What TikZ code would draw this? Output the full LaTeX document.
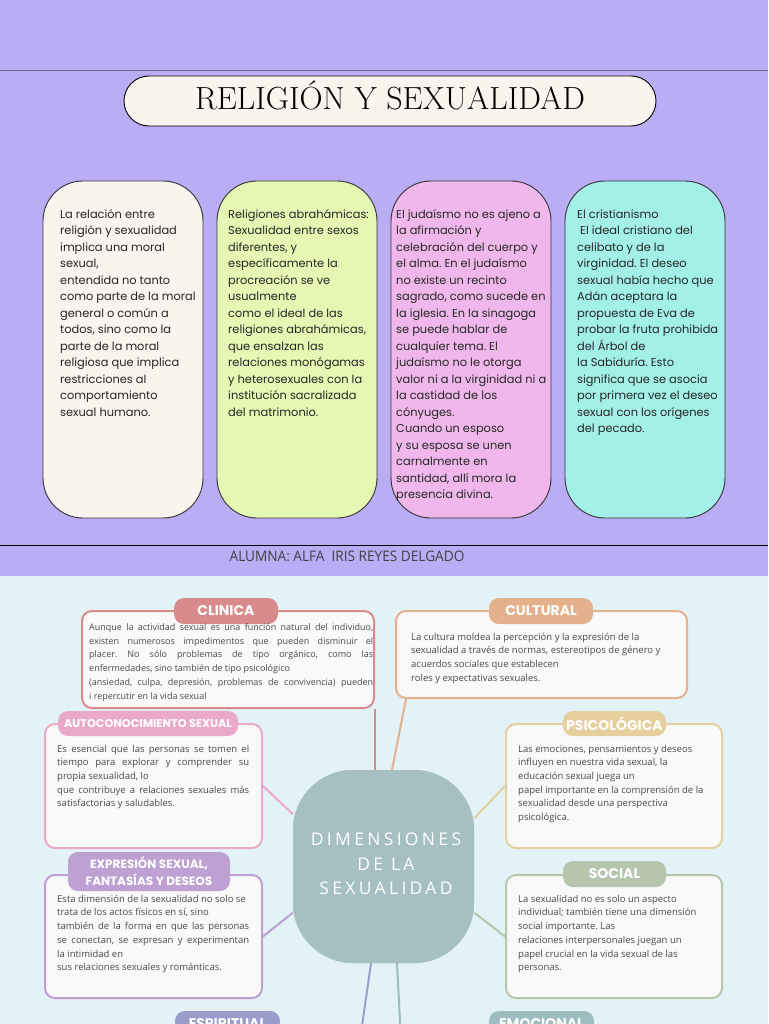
\documentclass[tikz,border=0pt]{standalone}
\usepackage{fontspec}
\usetikzlibrary{calc}
\newfontfamily\popp{Poppins}
\newfontfamily\osans{Open Sans}
\newfontfamily\osansls{Open Sans}[LetterSpace=19]
\definecolor{topbg}{HTML}{BBADF5}
\definecolor{botbg}{HTML}{E2F2F7}
\definecolor{cream}{HTML}{F8F4EE}
\definecolor{lime}{HTML}{E6F7B3}
\definecolor{pinkb}{HTML}{F0B8EA}
\definecolor{cyanb}{HTML}{A3F0E9}
\definecolor{boxfill}{HTML}{F9F9F9}
\definecolor{mmtxt}{HTML}{4A4A4A}
\definecolor{centc}{HTML}{A6BFC3}
\definecolor{clinc}{HTML}{D98A8C}
\definecolor{cultc}{HTML}{E4B18D}
\definecolor{autoc}{HTML}{EBA9C9}
\definecolor{psicc}{HTML}{E6CF9E}
\definecolor{exprc}{HTML}{BEA0D2}
\definecolor{socc}{HTML}{B6C6AC}
\definecolor{espc}{HTML}{9A9CCC}
\definecolor{emoc}{HTML}{9EBDC0}
\definecolor{linegray}{HTML}{6E6A84}
\begin{document}
\frenchspacing
\begin{tikzpicture}[x=1pt,y=-1pt,
  topbox/.style={draw=black!80, line width=0.9pt, rounded corners=40pt, minimum width=160pt, minimum height=337pt, inner sep=0pt},
  toptext/.style={anchor=north west, inner sep=0pt, align=left, font=\popp\fontsize{11.4}{16.5}\selectfont, text=black!85},
  mmbox/.style={draw=#1, line width=2pt, fill=boxfill, rounded corners=10pt, inner sep=0pt},
  pill/.style={fill=#1, rounded corners=10pt, text=white, font=\popp\bfseries\fontsize{14}{15}\selectfont, inner sep=0pt, align=center},
  mmtext/.style={anchor=north west, inner sep=0pt, align=left, font=\osans\fontsize{9.5}{13.7}\selectfont, text=mmtxt},
  conn/.style={draw=#1, line width=2pt}]
\useasboundingbox (0,0) rectangle (768,1024);
\clip (0,0) rectangle (768,1024);
% backgrounds
\fill[topbg] (0,0) rectangle (768,576);
\fill[botbg] (0,576) rectangle (768,1024);
\draw[linegray, line width=1pt] (0,71) -- (768,71);
\draw[black, line width=1pt] (0,545) -- (768,545);
% title
\node[draw=black, line width=0.9pt, fill=cream, rounded corners=25pt, minimum width=532pt, minimum height=50pt, inner sep=0pt] (title) at (390,101) {};
\node[font=\fontsize{32}{34}\selectfont, text height=21.9pt, text depth=0pt, inner sep=0pt] (titlet) at (390,99) {RELIGIÓN Y SEXUALIDAD};
% top boxes
\node[topbox, fill=cream] (b1) at (123,349.5) {};
\node[topbox, fill=lime] (b2) at (297,349.5) {};
\node[topbox, fill=pinkb] (b3) at (471,349.5) {};
\node[topbox, fill=cyanb] (b4) at (645,349.5) {};
\node[toptext] (t1) at (60,206.5) {\strut La relación entre\\religión y sexualidad\\implica una moral\\sexual,\\entendida no tanto\\como parte de la moral\\general o común a\\todos, sino como la\\parte de la moral\\religiosa que implica\\restricciones al\\comportamiento\\sexual humano.};
\node[toptext] (t2) at (228,206.5) {\strut Religiones abrahámicas:\\Sexualidad entre sexos\\diferentes, y\\específicamente la\\procreación se ve\\usualmente\\como el ideal de las\\religiones abrahámicas,\\que ensalzan las\\relaciones monógamas\\y heterosexuales con la\\institución sacralizada\\del matrimonio.};
\node[toptext] (t3) at (396,206.5) {\strut El judaísmo no es ajeno a\\la afirmación y\\celebración del cuerpo y\\el alma. En el judaísmo\\no existe un recinto\\sagrado, como sucede en\\la iglesia. En la sinagoga\\se puede hablar de\\cualquier tema. El\\judaísmo no le otorga\\valor ni a la virginidad ni a\\la castidad de los\\cónyuges.\\Cuando un esposo\\y su esposa se unen\\carnalmente en\\santidad, allí mora la\\presencia divina.};
\node[toptext] (t4) at (577,206.5) {\strut El cristianismo\\\hspace*{3pt}El ideal cristiano del\\celibato y de la\\virginidad. El deseo\\sexual había hecho que\\Adán aceptara la\\propuesta de Eva de\\probar la fruta prohibida\\del Árbol de\\la Sabiduría. Esto\\significa que se asocia\\por primera vez el deseo\\sexual con los orígenes\\del pecado.};
% student
\node[font=\osans\fontsize{14.5}{16}\selectfont, text=black!75, xscale=0.94, transform shape, inner sep=0pt] (alumna) at (347,556) {ALUMNA: ALFA\ \ IRIS REYES DELGADO};
% central node and boxes
\node[fill=centc, rounded corners=60pt, minimum width=181pt, minimum height=193pt, inner sep=0pt] (cent) at (383.5,866.5) {};
\coordinate (cultend) at ($(cent.north)+(8.5,0)$);
\coordinate (espend) at (360,1040);
\coordinate (emoend) at (401,1040);
\node[mmbox=clinc, minimum width=292pt, minimum height=97pt] (clin) at (228,659.5) {};
\node[mmbox=cultc, minimum width=291pt, minimum height=87pt] (cult) at (541.5,654.5) {};
\node[mmbox=autoc, minimum width=217pt, minimum height=124pt] (auto) at (153.5,786) {};
\node[mmbox=psicc, minimum width=216pt, minimum height=124pt] (psic) at (614,786) {};
\node[mmbox=exprc, minimum width=217pt, minimum height=123pt] (expr) at (153.5,936.5) {};
\node[mmbox=socc, minimum width=216pt, minimum height=123pt] (soc) at (614,936.5) {};
% connectors
\draw[conn=clinc] (clin.south east) -- (clin.south east |- cent.north);
\draw[conn=cultc] ($(cult.south west)+(11,0)$) -- (cultend);
\draw[conn=autoc] (auto.east) -- (cent.150);
\draw[conn=psicc] (psic.west) -- (cent.28);
\draw[conn=exprc] (expr.east) -- (cent.207);
\draw[conn=socc] (soc.west) -- (cent.333);
\draw[conn=espc] ($(cent.south)+(-12.5,0)$) -- (espend);
\draw[conn=emoc] ($(cent.south)+(13.5,0)$) -- (emoend);
\node[fill=centc, rounded corners=60pt, minimum width=181pt, minimum height=193pt, inner sep=0pt] (centbg) at (383.5,866.5) {};
\node[font=\osansls\fontsize{17.5}{24.5}\selectfont, text=white, align=center, inner sep=0pt] (centt) at (386,864) {DIMENSIONES\\DE LA\\SEXUALIDAD};
% pills
\node[pill=clinc, minimum width=104pt, minimum height=26pt] (pclin) at (226,611) {CLINICA};
\node[pill=cultc, minimum width=104pt, minimum height=26pt] (pcult) at (541,611) {CULTURAL};
\node[pill=autoc, minimum width=180pt, minimum height=25pt, font=\popp\bfseries\fontsize{11.3}{13}\selectfont] (pauto) at (148,723.5) {AUTOCONOCIMIENTO SEXUAL};
\node[pill=psicc, minimum width=103pt, minimum height=25pt] (ppsic) at (614.5,723.5) {PSICOLÓGICA};
\node[pill=exprc, minimum width=162pt, minimum height=39pt, font=\popp\bfseries\fontsize{12}{17}\selectfont] (pexpr) at (149,871.5) {EXPRESIÓN SEXUAL,\\FANTASÍAS Y DESEOS};
\node[pill=socc, minimum width=103pt, minimum height=26pt] (psoc) at (614.5,874) {SOCIAL};
\node[pill=espc, minimum width=105pt, minimum height=26pt] (pesp) at (227.5,1024) {ESPIRITUAL};
\node[pill=emoc, minimum width=105pt, minimum height=26pt] (pemo) at (541.5,1024) {EMOCIONAL};
% mind map texts
\node[mmtext, font=\osans\fontsize{9}{13.8}\selectfont] (tclin) at (89,620.4) {\strut\makebox[284pt][s]{Aunque la actividad sexual es una función natural del individuo,}\\\makebox[284pt][s]{existen numerosos impedimentos que pueden disminuir el}\\\makebox[284pt][s]{placer. No sólo problemas de tipo orgánico, como las}\\enfermedades, sino también de tipo psicológico\\\makebox[284pt][s]{(ansiedad, culpa, depresión, problemas de convivencia) pueden}\\i repercutir en la vida sexual};
\node[mmtext] (tcult) at (411,630.4) {\strut La cultura moldea la percepción y la expresión de la\\sexualidad a través de normas, estereotipos de género y\\acuerdos sociales que establecen\\roles y expectativas sexuales.};
\node[mmtext] (tauto) at (57,742.4) {\strut\makebox[192pt][s]{Es esencial que las personas se tomen el}\\\makebox[192pt][s]{tiempo para explorar y comprender su}\\propia sexualidad, lo\\\makebox[192pt][s]{que contribuye a relaciones sexuales más}\\satisfactorias y saludables.};
\node[mmtext] (tpsic) at (518,742.4) {\strut Las emociones, pensamientos y deseos\\influyen en nuestra vida sexual, la\\educación sexual juega un\\papel importante en la comprensión de la\\sexualidad desde una perspectiva\\psicológica.};
\node[mmtext] (texpr) at (57,892.4) {\strut Esta dimensión de la sexualidad no solo se\\trata de los actos físicos en sí, sino\\\makebox[192pt][s]{también de la forma en que las personas}\\\makebox[192pt][s]{se conectan, se expresan y experimentan}\\la intimidad en\\sus relaciones sexuales y románticas.};
\node[mmtext] (tsoc) at (518,892.4) {\strut La sexualidad no es solo un aspecto\\individual; también tiene una dimensión\\social importante. Las\\relaciones interpersonales juegan un\\papel crucial en la vida sexual de las\\personas.};
\end{tikzpicture}
\end{document}
